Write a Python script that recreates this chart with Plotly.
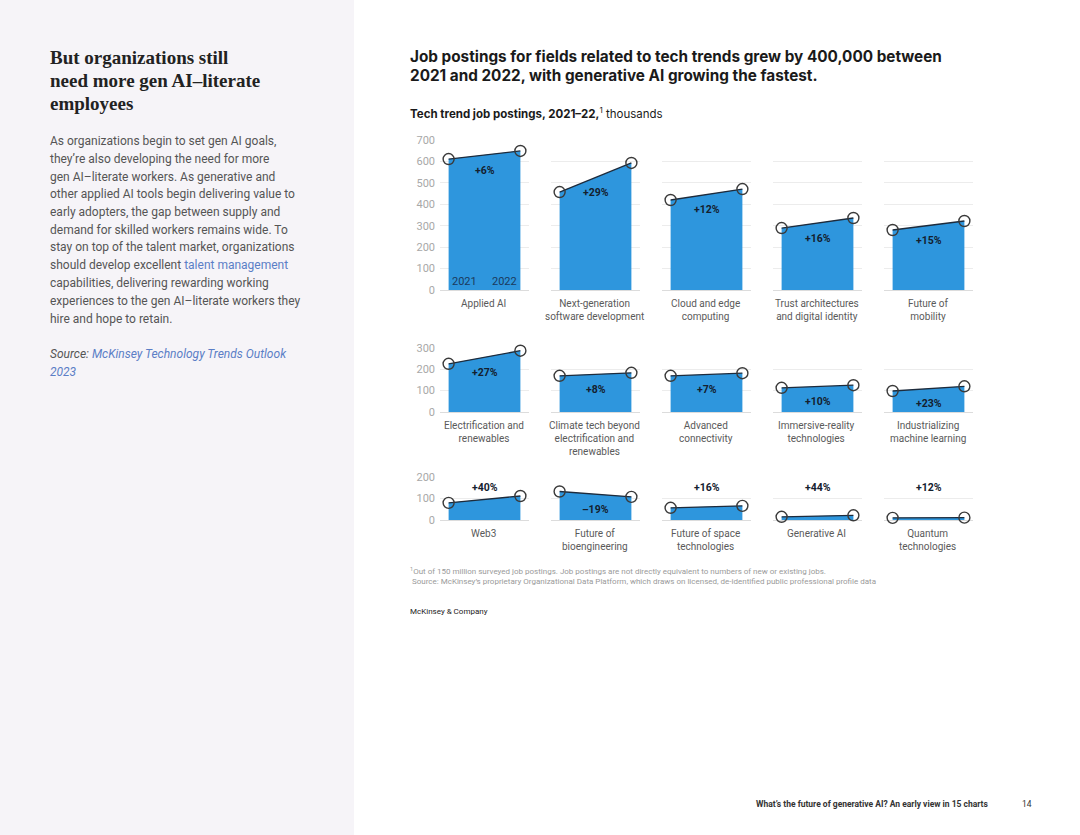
import plotly.graph_objects as go

# ---------------- data ----------------
categories = [
    "Applied AI", "Next-generation<br>software development", "Cloud and edge<br>computing",
    "Trust architectures<br>and digital identity", "Future of<br>mobility",
    "Electrification and<br>renewables", "Climate tech beyond<br>electrification and<br>renewables",
    "Advanced<br>connectivity", "Immersive-reality<br>technologies", "Industrializing<br>machine learning",
    "Web3", "Future of<br>bioengineering", "Future of space<br>technologies", "Generative AI",
    "Quantum<br>technologies",
]
postings_2021 = [611, 457, 420, 289, 280, 225, 169, 169, 113, 98, 80, 133, 57, 15, 10]
postings_2022 = [649, 593, 471, 336, 322, 286, 183, 181, 125, 120, 112, 108, 66, 22, 11]
growth_labels = ["+6%", "+29%", "+12%", "+16%", "+15%", "+27%", "+8%", "+7%", "+10%", "+23%",
                 "+40%", "\u201319%", "+16%", "+44%", "+12%"]
years = ["2021", "2022"]
row_max = [700, 300, 200]
ytick_vals = [[0, 100, 200, 300, 400, 500, 600, 700], [0, 100, 200, 300], [0, 100, 200]]

# ---------------- styles / layout ----------------
W, H = 1080, 835
label_pos = ["below"] * 10 + ["above", "below", "above", "above", "above"]
col_left = [440, 551, 662, 773, 884]
col_w = 89
row_bottom = [290, 412, 520]
px_per_unit = 150 / 700
FILL = "#2e96dd"
LINE = "#1d2b3c"
GRID = "#ececec"
TXT_DARK = "#1a1a1a"
TXT_GREY = "#5a5a5a"

def px(x):
    return x / W

def py(y):
    return 1 - y / H

fig = go.Figure()
layout = dict(
    width=W, height=H, autosize=False,
    margin=dict(l=0, r=0, t=0, b=0, pad=0, autoexpand=False),
    paper_bgcolor="white", plot_bgcolor="rgba(0,0,0,0)",
    showlegend=False,
    font=dict(family="Roboto", color=TXT_GREY),
)
annotations = []
shapes = [dict(type="rect", xref="paper", yref="paper", x0=0, x1=px(354), y0=0, y1=1,
               fillcolor="#f6f4f8", line=dict(width=0), layer="below")]

for i, cat in enumerate(categories):
    r, c = divmod(i, 5)
    n = i + 1
    xa = "x" if n == 1 else f"x{n}"
    ya = "y" if n == 1 else f"y{n}"
    top = row_bottom[r] - row_max[r] * px_per_unit
    x0p, x1p = col_left[c], col_left[c] + col_w
    layout["xaxis" if n == 1 else f"xaxis{n}"] = dict(
        domain=[px(x0p), px(x1p)], range=[-0.12, 1.12], anchor=ya,
        showgrid=False, zeroline=False, showticklabels=False, fixedrange=True,
    )
    layout["yaxis" if n == 1 else f"yaxis{n}"] = dict(
        domain=[py(row_bottom[r]), py(top)], range=[0, row_max[r]], anchor=xa,
        tickvals=ytick_vals[r], showgrid=True, gridcolor=GRID, gridwidth=1,
        zeroline=True, zerolinecolor="#dcdcdc", zerolinewidth=1,
        showticklabels=(c == 0), ticks="", tickfont=dict(size=11, color="#a8a8a8"),
        ticklabelstandoff=4, fixedrange=True,
    )
    vals = [postings_2021[i], postings_2022[i]]
    fig.add_trace(go.Scatter(
        x=[0, 1], y=vals, xaxis=xa, yaxis=ya, mode="lines+markers",
        fill="tozeroy", fillcolor=FILL,
        line=dict(color=LINE, width=1.3),
        marker=dict(symbol="circle-open", size=11, color="#3a3a3a", line=dict(width=1.4)),
        cliponaxis=False, hoverinfo="skip",
    ))
    # growth label
    if label_pos[i] == "below":
        annotations.append(dict(x=0.5, y=sum(vals) / 2, xref=xa, yref=ya, yshift=-15,
                                text=f"<b>{growth_labels[i]}</b>", showarrow=False,
                                font=dict(size=10.5, color="#14202e"), yanchor="middle"))
    else:
        annotations.append(dict(x=0.5, y=row_max[r] * 0.76, xref=xa, yref=ya,
                                text=f"<b>{growth_labels[i]}</b>", showarrow=False,
                                font=dict(size=10.5, color="#14202e"), yanchor="middle"))
    # category label
    annotations.append(dict(x=px((x0p + x1p) / 2 - 1), y=py(row_bottom[r] + 6), xref="paper", yref="paper",
                            text=cat, showarrow=False, xanchor="center", yanchor="top",
                            align="center", font=dict(size=10, color=TXT_GREY)))

# year labels in first panel
annotations.append(dict(x=0, y=0, xref="x", yref="y", text=years[0], showarrow=False,
                        xanchor="left", yanchor="bottom", xshift=1, yshift=0,
                        font=dict(size=11, color="#1b3a5c")))
annotations.append(dict(x=1, y=0, xref="x", yref="y", text=years[1], showarrow=False,
                        xanchor="right", yanchor="bottom", xshift=-1, yshift=0,
                        font=dict(size=11, color="#1b3a5c")))

def txt(x, y, text, size, color, family="Roboto", anchor="left"):
    annotations.append(dict(x=px(x), y=py(y), xref="paper", yref="paper", text=text,
                            showarrow=False, xanchor=anchor, yanchor="middle", align="left",
                            font=dict(size=size, color=color, family=family)))

# chart title
txt(408, 56, "<b>Job postings for fields related to tech trends grew by 400,000 between</b>", 15.3, TXT_DARK, "Inter")
txt(408, 76, "<b>2021 and 2022, with generative AI growing the fastest.</b>", 15.3, TXT_DARK, "Inter")
txt(408, 113, "<b>Tech trend job postings, 2021\u201322,</b><sup>1</sup> thousands", 11.5, TXT_DARK, "Inter")

# left panel heading
heading = ["But organizations still", "need more gen AI\u2013literate", "employees"]
for k, line in enumerate(heading):
    txt(48, 57 + k * 23.5, f"<b>{line}</b>", 19, "#222222", "Liberation Serif")

LINK = "#5b7ec6"
body = [
    "As organizations begin to set gen AI goals,",
    "they\u2019re also developing the need for more",
    "gen AI\u2013literate workers. As generative and",
    "other applied AI tools begin delivering value to",
    "early adopters, the gap between supply and",
    "demand for skilled workers remains wide. To",
    "stay on top of the talent market, organizations",
    f"should develop excellent <span style='color:{LINK}'>talent management</span>",
    "capabilities, delivering rewarding working",
    "experiences to the gen AI\u2013literate workers they",
    "hire and hope to retain.",
]
for k, line in enumerate(body):
    txt(48, 141 + k * 17.75, line, 12, "#555555")

txt(48, 354, f"<i>Source: <span style='color:{LINK}'>McKinsey Technology Trends Outlook</span></i>", 12, "#555555")
txt(48, 372, f"<i><span style='color:{LINK}'>2023</span></i>", 12, "#555555")

# footnotes
txt(408, 571, "<sup>1</sup>Out of 150 million surveyed job postings. Job postings are not directly equivalent to numbers of new or existing jobs.", 8, "#9a9a9a")
txt(410, 581, "Source: McKinsey\u2019s proprietary Organizational Data Platform, which draws on licensed, de-identified public professional profile data", 8, "#9a9a9a")
txt(408, 611, "McKinsey & Company", 8, "#222222")

# footer
txt(991, 804, "<b>What\u2019s the future of generative AI? An early view in 15 charts</b>", 8.5, "#333333", "Roboto", "right")
txt(1027, 804, "14", 8.5, "#333333", "Roboto", "center")

layout["annotations"] = annotations
layout["shapes"] = shapes
fig.update_layout(**layout)

fig.write_html("out.html", config={"displayModeBar": False, "staticPlot": True},
               post_script="document.body.style.margin='0';document.body.style.overflow='hidden';")
